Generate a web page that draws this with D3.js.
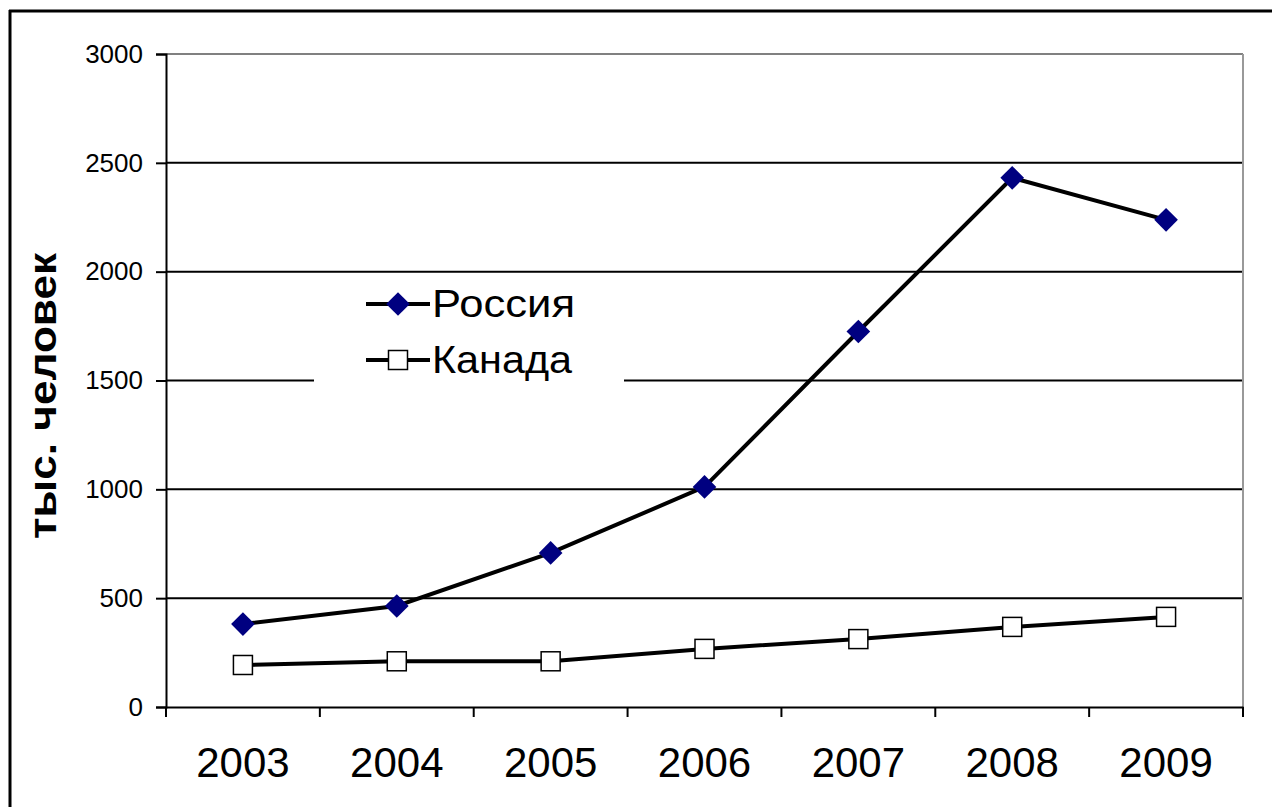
<!DOCTYPE html>
<html>
<head>
<meta charset="utf-8">
<script src="https://cdn.jsdelivr.net/npm/d3@7"></script>
<style>
  body { margin: 0; background: #fff; }
  text { font-family: "Liberation Sans", Arial, sans-serif; fill: #000; }
</style>
</head>
<body>
<svg id="chart" width="1272" height="807"></svg>
<script>
// years on the x axis
var years = ["2003", "2004", "2005", "2006", "2007", "2008", "2009"];
// thousands of people
var russia = [381, 464, 708, 1011, 1725, 2431, 2238];
var canada = [193, 210, 210, 267, 312, 368, 414];
var yTicks = [0, 500, 1000, 1500, 2000, 2500, 3000];
var seriesNames = ["Россия", "Канада"];

var svg = d3.select("#chart");
var pLeft = 166, pRight = 1243, pTop = 54, pBottom = 707;

var x = d3.scaleBand().domain(years).range([pLeft, pRight]);
var y = d3.scaleLinear().domain([0, 3000]).range([pBottom, pTop]);

// outer frame (only top and left visible)
svg.append("line").attr("x1", 9).attr("x2", 1272).attr("y1", 11).attr("y2", 11)
  .attr("stroke", "#000").attr("stroke-width", 3);
svg.append("line").attr("x1", 10).attr("x2", 10).attr("y1", 10).attr("y2", 807)
  .attr("stroke", "#000").attr("stroke-width", 3);

// gridlines
svg.selectAll(".grid").data(yTicks.filter(function (d) { return d > 0 && d < 3000; }))
  .enter().append("line")
  .attr("x1", pLeft).attr("x2", pRight)
  .attr("y1", function (d) { return y(d); }).attr("y2", function (d) { return y(d); })
  .attr("stroke", "#000").attr("stroke-width", 2);

// plot border top/right (gray)
svg.append("line").attr("x1", pLeft).attr("x2", pRight).attr("y1", y(3000)).attr("y2", y(3000))
  .attr("stroke", "#808080").attr("stroke-width", 2);
svg.append("line").attr("x1", pRight).attr("x2", pRight).attr("y1", y(3000)).attr("y2", y(0))
  .attr("stroke", "#999").attr("stroke-width", 2);

// y axis
var yAxis = d3.axisLeft(y).tickValues(yTicks).tickFormat(d3.format("d")).tickSize(10).tickPadding(13);
var gy = svg.append("g").attr("transform", "translate(" + pLeft + ",0)").call(yAxis);
gy.select(".domain").attr("stroke", "#000").attr("stroke-width", 2);
gy.selectAll(".tick line").attr("stroke", "#000").attr("stroke-width", 2);
gy.selectAll(".tick text").attr("font-size", 26).attr("font-family", "Liberation Sans");

// x axis: ticks between categories
var xAxis = d3.axisBottom(x).tickSize(0).tickPadding(40);
var gx = svg.append("g").attr("transform", "translate(0," + pBottom + ")").call(xAxis);
gx.select(".domain").attr("stroke", "#000").attr("stroke-width", 2);
gx.selectAll(".tick text").attr("font-size", 42).attr("font-family", "Liberation Sans");
var edges = years.map(function (d) { return x(d); }).concat([pRight]);
gx.selectAll(".edge").data(edges).enter().append("line")
  .attr("x1", function (d) { return d; }).attr("x2", function (d) { return d; })
  .attr("y1", 0).attr("y2", 10)
  .attr("stroke", "#000").attr("stroke-width", 2);

// y title
svg.append("text")
  .attr("transform", "translate(56,396) rotate(-90)")
  .attr("text-anchor", "middle")
  .attr("font-size", 38).attr("font-weight", "bold")
  .attr("textLength", 286).attr("lengthAdjust", "spacingAndGlyphs")
  .text("тыс. человек");

var cx = function (d, i) { return x(years[i]) + x.bandwidth() / 2; };
var line = d3.line().x(function (d, i) { return cx(d, i); }).y(function (d) { return y(d); });

// Canada
svg.append("path").datum(canada).attr("d", line)
  .attr("fill", "none").attr("stroke", "#000").attr("stroke-width", 4);
svg.selectAll(".can").data(canada).enter().append("rect")
  .attr("x", function (d, i) { return cx(d, i) - 9.5; })
  .attr("y", function (d) { return y(d) - 9.5; })
  .attr("width", 19).attr("height", 19)
  .attr("fill", "#fff").attr("stroke", "#000").attr("stroke-width", 1.5);

// Russia
svg.append("path").datum(russia).attr("d", line)
  .attr("fill", "none").attr("stroke", "#000").attr("stroke-width", 4);
var diamond = d3.symbol().type(d3.symbolSquare).size(280);
svg.selectAll(".rus").data(russia).enter().append("path")
  .attr("d", diamond)
  .attr("transform", function (d, i) { return "translate(" + cx(d, i) + "," + y(d) + ") rotate(45)"; })
  .attr("fill", "#000080");

// legend
var lg = svg.append("g");
lg.append("rect").attr("x", 314).attr("y", 275).attr("width", 310).attr("height", 120).attr("fill", "#fff");
var rows = [304, 360];
var labelWidths = [143, 140];
seriesNames.forEach(function (name, i) {
  var ly = rows[i];
  lg.append("line").attr("x1", 366).attr("x2", 430).attr("y1", ly).attr("y2", ly)
    .attr("stroke", "#000").attr("stroke-width", 4);
  if (i === 0) {
    lg.append("path").attr("d", diamond)
      .attr("transform", "translate(398," + ly + ") rotate(45)")
      .attr("fill", "#000080");
  } else {
    lg.append("rect").attr("x", 388.5).attr("y", ly - 9.5).attr("width", 19).attr("height", 19)
      .attr("fill", "#fff").attr("stroke", "#000").attr("stroke-width", 1.5);
  }
  lg.append("text").attr("x", 432).attr("y", ly + 13).attr("font-size", 38)
    .attr("textLength", labelWidths[i]).attr("lengthAdjust", "spacingAndGlyphs")
    .text(name);
});
</script>
</body>
</html>
